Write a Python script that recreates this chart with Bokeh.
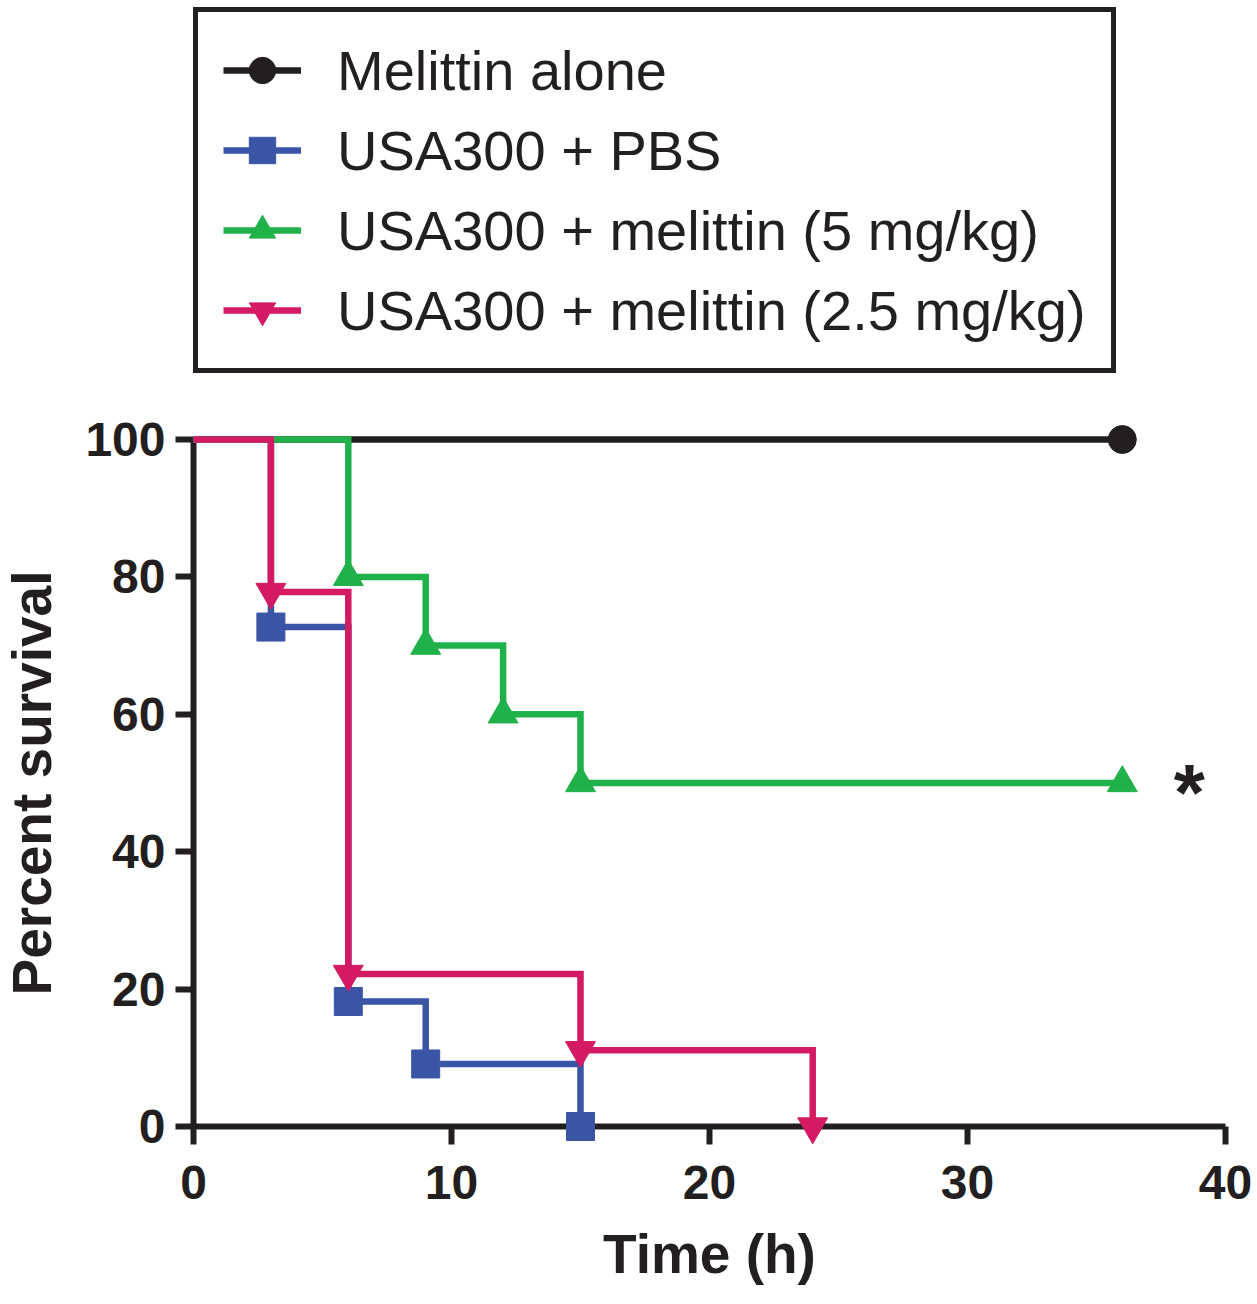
import numpy as np
from bokeh.plotting import figure
from bokeh.models import Range1d, FixedTicker, Legend, LegendItem
from bokeh.core.properties import value
from bokeh.embed import file_html
from bokeh.resources import INLINE

# Kaplan-Meier data (hours, percent survival)
hours_alone = [0, 36]
surv_alone = [100, 100]

hours_pbs = [0, 3, 6, 9, 15]
surv_pbs = [100, 72.7, 18.2, 9.1, 0]

hours_mel5 = [0, 6, 9, 12, 15, 36]
surv_mel5 = [100, 80, 70, 60, 50, 50]

hours_mel25 = [0, 3, 6, 15, 24]
surv_mel25 = [100, 77.8, 22.2, 11.1, 0]

labels = ["Melittin alone", "USA300 + PBS",
          "USA300 + melittin (5 mg/kg)", "USA300 + melittin (2.5 mg/kg)"]
x_ticks = [0, 10, 20, 30, 40]
y_ticks = [0, 20, 40, 60, 80, 100]

FONT = "Liberation Sans"
INK = "#231f20"

# plot area: 0..100 % takes 687 px, the space above holds the legend
PLOT_H = 687
FRAME_H = 1126
y_top = 100 * FRAME_H / PLOT_H

p = figure(frame_width=1032, frame_height=FRAME_H,
           x_range=Range1d(0, 40), y_range=Range1d(0, y_top),
           min_border_left=193, min_border_right=28,
           min_border_top=0, min_border_bottom=170,
           output_backend="svg", toolbar_location=None,
           background_fill_color="white", border_fill_color="white")
p.outline_line_color = None
p.grid.visible = False

# axes
for ax in (p.xaxis[0], p.yaxis[0]):
    ax.axis_line_width = 6
    ax.axis_line_color = INK
    ax.major_tick_line_width = 6
    ax.major_tick_line_color = INK
    ax.major_tick_in = 0
    ax.major_tick_out = 18
    ax.minor_tick_line_color = None
    ax.major_label_text_font = FONT
    ax.major_label_text_font_style = "bold"
    ax.major_label_text_font_size = "48px"
    ax.major_label_text_color = INK
    ax.axis_label_text_font = FONT
    ax.axis_label_text_font_style = "bold"
    ax.axis_label_text_font_size = "55px"
    ax.axis_label_text_color = INK

p.xaxis.ticker = FixedTicker(ticks=x_ticks)
p.yaxis.ticker = FixedTicker(ticks=y_ticks)
p.yaxis.bounds = (0, 100)
p.xaxis.axis_label = "Time (h)"
p.xaxis.major_label_standoff = 21
p.xaxis.axis_label_standoff = 21
p.yaxis.major_label_standoff = 10

# y title centred on the 0..100 span (the frame also holds the legend)
p.text([0], [50], text=["Percent survival"], angle=np.pi / 2,
       x_offset=-162, text_font=value(FONT), text_font_style="bold",
       text_font_size="55px", text_color=INK, text_align="center",
       text_baseline="alphabetic", level="overlay")

series = [
    (hours_alone, surv_alone, INK, "circle", 28, [1]),
    (hours_pbs, surv_pbs, "#3a55a5", "square", 28, list(range(1, len(hours_pbs)))),
    (hours_mel5, surv_mel5, "#21b14b", "triangle", 30, list(range(1, len(hours_mel5)))),
    (hours_mel25, surv_mel25, "#d41a64", "inverted_triangle", 30, list(range(1, len(hours_mel25)))),
]

items = []
for (hx, sy, color, marker, size, idx), label in zip(series, labels):
    ln = p.step(hx, sy, mode="after", line_color=color, line_width=6.5,
                line_join="miter", level="overlay")
    mx = [hx[i] for i in idx]
    my = [sy[i] for i in idx]
    sc = p.scatter(mx, my, marker=marker, size=size, fill_color=color,
                   line_color=color, level="overlay")
    items.append(LegendItem(label=label, renderers=[ln, sc]))

# significance mark
p.text([38.6], [50], text=["*"], text_font=value(FONT), text_font_style="bold",
       text_font_size="80px", text_color=INK, text_align="center",
       text_baseline="alphabetic", y_offset=9, level="overlay")

legend = Legend(items=items, location=(0, 753), orientation="vertical",
                label_text_font=FONT, label_text_font_size="56px",
                label_text_color=INK, label_standoff=36,
                glyph_width=78, glyph_height=66, label_height=60,
                spacing=14, padding=25, margin=0,
                border_line_color=INK, border_line_width=5,
                border_line_alpha=1.0,
                background_fill_color="white", background_fill_alpha=1.0)
p.add_layout(legend, "center")

open("out.html", "w").write(file_html(p, INLINE))
